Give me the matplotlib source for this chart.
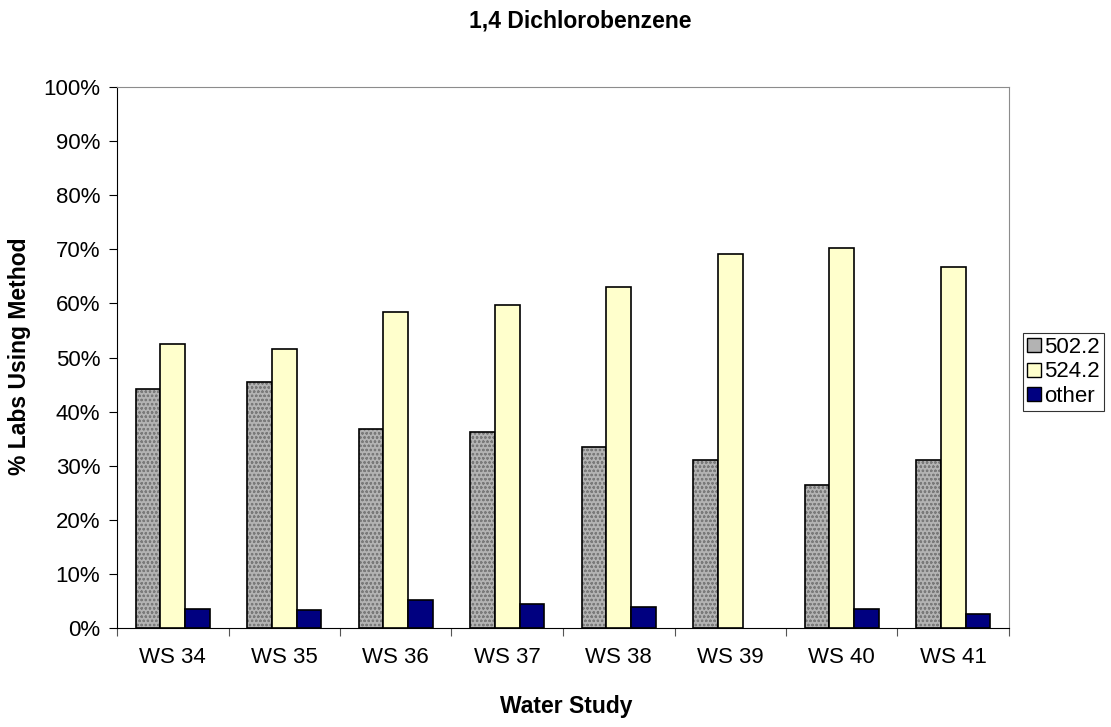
# grouped bar chart of method use per water study
# comments are lowercase no punctuation

import numpy as np
import matplotlib.pyplot as plt
from matplotlib.patches import Patch
from matplotlib.ticker import FuncFormatter, MultipleLocator

plt.rcParams["font.family"] = ["Liberation Sans", "DejaVu Sans"]
plt.rcParams["hatch.linewidth"] = 0.6

studies = ["WS 34", "WS 35", "WS 36", "WS 37", "WS 38", "WS 39", "WS 40", "WS 41"]
m502 = [44.1, 45.5, 36.7, 36.2, 33.5, 31.1, 26.4, 31.1]
m524 = [52.5, 51.6, 58.4, 59.7, 63.0, 69.1, 70.2, 66.7]
other = [3.5, 3.3, 5.1, 4.4, 3.8, 0.0, 3.6, 2.5]
series_names = ["502.2", "524.2", "other"]


def main():
    fig = plt.figure(figsize=(11.11, 7.27), dpi=100)
    ax = fig.add_axes([117 / 1111, 1 - 628 / 727, 892 / 1111, 541 / 727])

    x = np.arange(len(studies))
    w = 1 / 4.5

    # grey granite look built from a dotted hatch over a mid grey
    ax.bar(x - w, m502, width=w, color="#b3b3b3", edgecolor="#7a7a7a",
           hatch="oooo", linewidth=0, zorder=2)
    ax.bar(x - w, m502, width=w, fill=False, edgecolor="black", linewidth=1.2, zorder=3)
    ax.bar(x, m524, width=w, color="#ffffcc", edgecolor="black", linewidth=1.2, zorder=3)
    # zero height bars get no outline like excel
    lw_other = [1.2 if v > 0 else 0 for v in other]
    ax.bar(x + w, other, width=w, color="#000080", edgecolor="black", linewidth=lw_other, zorder=3)

    ax.set_xlim(-0.5, len(studies) - 0.5)
    ax.set_ylim(0, 100)
    ax.yaxis.set_major_locator(MultipleLocator(10))
    ax.yaxis.set_major_formatter(FuncFormatter(lambda v, _: f"{v:.0f}%"))

    # category labels between boundary ticks
    ax.set_xticks(np.arange(len(studies) + 1) - 0.5)
    ax.set_xticklabels([])
    ax.set_xticks(x, minor=True)
    ax.set_xticklabels(studies, minor=True, fontsize=16)
    ax.tick_params(axis="x", which="minor", length=0, pad=14)
    ax.tick_params(axis="x", which="major", length=6, direction="out", color="#555555")
    ax.tick_params(axis="y", length=6, direction="out", labelsize=16, pad=6)

    for side in ["top", "right"]:
        ax.spines[side].set_color("#8c8c8c")
    for side in ["left", "bottom"]:
        ax.spines[side].set_color("black")

    fig.text(580 / 1111, 1 - 21 / 727, "1,4 Dichlorobenzene", ha="center", va="center",
             fontsize=16.5, fontweight="bold")
    fig.text(566 / 1111, 1 - 706 / 727, "Water Study", ha="center", va="center",
             fontsize=16.5, fontweight="bold")
    fig.text(20 / 1111, 1 - 356 / 727, "% Labs Using Method", ha="center", va="center",
             rotation=90, fontsize=16.5, fontweight="bold")

    handles = [Patch(facecolor="#b3b3b3", edgecolor="black", label=series_names[0]),
               Patch(facecolor="#ffffcc", edgecolor="black", label=series_names[1]),
               Patch(facecolor="#000080", edgecolor="black", label=series_names[2])]
    leg = fig.legend(handles=handles, loc="center left",
                     bbox_to_anchor=(1023 / 1111, 1 - 372 / 727), fontsize=16,
                     handlelength=0.6, handleheight=0.6, handletextpad=0.15,
                     borderpad=0.2, labelspacing=0.15, borderaxespad=0, fancybox=False)
    leg.get_frame().set_edgecolor("black")
    leg.get_frame().set_linewidth(0.8)

    fig.savefig("out.png")
    plt.close(fig)


if __name__ == "__main__":
    main()
